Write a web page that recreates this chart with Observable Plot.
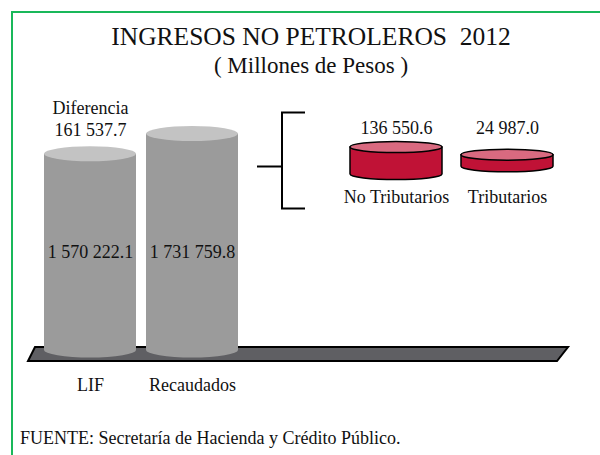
<!DOCTYPE html>
<html><head><meta charset="utf-8">
<script src="https://cdn.jsdelivr.net/npm/d3@7"></script>
<script src="https://cdn.jsdelivr.net/npm/@observablehq/plot@0.6"></script>
<style>
html,body{margin:0;padding:0;background:#fff;}
#wrap{position:relative;width:600px;height:455px;overflow:hidden;font-family:"Liberation Serif","DejaVu Serif",serif;color:#111;}
#frame{position:absolute;left:11px;top:11px;width:600px;height:460px;border-top:2px solid #19b85a;border-left:2px solid #19b85a;}
.t{position:absolute;left:22px;right:0;text-align:center;white-space:nowrap;line-height:1;}
#title{top:24px;font-size:25.5px;}
#subtitle{top:54px;font-size:23px;}
#caption{position:absolute;left:20px;top:429px;font-size:18px;white-space:nowrap;line-height:1;}
.layer{position:absolute;left:0;top:0;}
</style></head>
<body><div id="wrap">
<div id="frame"></div>
<div class="t" id="title">INGRESOS NO PETROLEROS&nbsp; 2012</div>
<div class="t" id="subtitle">( Millones de Pesos )</div>
<div id="caption">FUENTE: Secretaría de Hacienda y Crédito Público.</div>
<div class="layer" id="c1"></div>
<div class="layer" id="c2"></div>
</div>
<script>
// ---- data ----
const categories = ["LIF", "Recaudados"];
const totals = [1570222.1, 1731759.8];
const differenceLabel = "Diferencia";
const difference = 161537.7;
const subCategories = ["No Tributarios", "Tributarios"];
const subValues = [136550.6, 24987.0];

const fmt = d3.formatLocale({decimal: ".", thousands: " ", grouping: [3], currency: ["", ""]}).format(",.1f");
const main = categories.map((c, i) => ({category: c, value: totals[i]}));
const sub = subCategories.map((c, i) => ({category: c, value: subValues[i]}));
const FONT = "Liberation Serif, DejaVu Serif, serif";

function cylinders(data, {lo, hi, fill, top, stroke = "none", strokeWidth = 0, ry}) {
  return (index, scales) => {
    const x = scales.x, y = scales.y;
    const bw = x.bandwidth();
    const g = d3.create("svg:g");
    for (const d of data) {
      const xl = x(d.category), xr = xl + bw, rx = bw / 2, cx = xl + rx;
      const yt = y(hi(d)), yb = y(lo(d));
      g.append("path")
        .attr("d", `M${xl},${yt}L${xl},${yb}A${rx},${ry} 0 0 0 ${xr},${yb}L${xr},${yt}Z`)
        .attr("fill", fill).attr("stroke", stroke).attr("stroke-width", strokeWidth);
      g.append("ellipse").attr("cx", cx).attr("cy", yt).attr("rx", rx).attr("ry", ry)
        .attr("fill", top).attr("stroke", stroke).attr("stroke-width", strokeWidth);
    }
    return g.node();
  };
}

// floor under the main cylinders
const floor = (index, scales, values, dims) => {
  const y0 = scales.y(0);
  const pts = [[35, y0 - 3], [dims.width - 32, y0 - 3], [dims.width - 43, y0 + 11], [28, y0 + 11]];
  return d3.create("svg:polygon").attr("points", pts.map(p => p.join(",")).join(" "))
    .attr("fill", "#5f5f63").attr("stroke", "#000").attr("stroke-width", 2).node();
};

const p1 = Plot.plot({
  width: 600, height: 455, margin: 0,
  style: {background: "transparent", fontFamily: FONT, color: "#111"},
  x: {type: "band", domain: categories, range: [33, 248], padding: 0.1, axis: null},
  y: {domain: [0, 1800000], range: [350, 125], axis: null},
  marks: [
    floor,
    cylinders(main, {lo: () => 0, hi: d => d.value, fill: "#9b9b9b", top: "#c3c3c3", ry: 7.5}),
    Plot.text(main, {x: "category", y: d3.min(totals) / 2, text: d => fmt(d.value), fontSize: 18, fill: "#111"}),
    Plot.text(main.slice(0, 1), {x: "category", y: "value", text: () => differenceLabel + "\n" + fmt(difference),
      lineAnchor: "bottom", lineHeight: 1.22, dy: -18, fontSize: 18, fill: "#111"}),
    Plot.text(main, {x: "category", y: 0, dy: 35, text: "category", fontSize: 18, fill: "#111"})
  ]
});
document.getElementById("c1").append(p1);

const bracket = (index, scales) => {
  const x0 = scales.x(subCategories[0]), yc = scales.y(0);
  const g = d3.create("svg:g").attr("fill", "none").attr("stroke", "#000").attr("stroke-width", 2);
  g.append("path").attr("d", `M${x0 - 45},${yc - 48}H${x0 - 68}V${yc + 48}H${x0 - 45}`);
  g.append("path").attr("d", `M${x0 - 93},${yc + 6}H${x0 - 68}`);
  return g.node();
};

const vmax = d3.max(subValues);
const p2 = Plot.plot({
  width: 600, height: 455, margin: 0,
  style: {background: "transparent", fontFamily: FONT, color: "#111"},
  x: {type: "band", domain: subCategories, range: [331.5, 572.5], padding: 0.17, axis: null},
  y: {type: "sqrt", domain: [-vmax, vmax], range: [174, 147], axis: null},
  marks: [
    bracket,
    cylinders(sub, {lo: d => -d.value, hi: d => d.value, fill: "#c01236", top: "#d96a80", stroke: "#000", strokeWidth: 1.5, ry: 5.5}),
    Plot.text(sub, {x: "category", y: vmax, dy: -19, text: d => fmt(d.value), fontSize: 18, fill: "#111"}),
    Plot.text(sub, {x: "category", y: -vmax, dy: 23, text: "category", fontSize: 18, fill: "#111"})
  ]
});
document.getElementById("c2").append(p2);
</script>
</body></html>
